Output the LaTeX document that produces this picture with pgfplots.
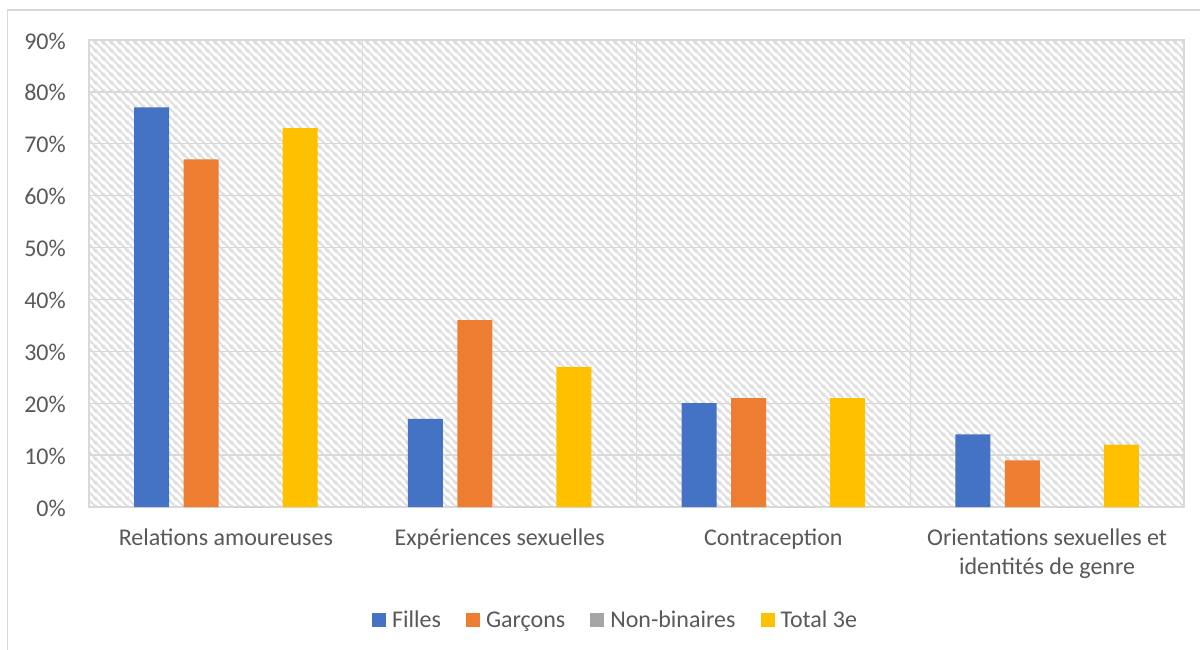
\documentclass[border=0pt]{standalone}
\usepackage{pgfplots}
\pgfplotsset{compat=1.18}
\usetikzlibrary{patterns.meta}
\usepackage{fontspec}
\setmainfont{Carlito}
\definecolor{txt}{HTML}{595959}
\definecolor{gridc}{HTML}{D9D9D9}
\definecolor{hatchc}{HTML}{DCDCDC}
\definecolor{cF}{HTML}{4472C4}
\definecolor{cG}{HTML}{ED7D31}
\definecolor{cN}{HTML}{A5A5A5}
\definecolor{cT}{HTML}{FFC000}
\tikzdeclarepattern{
  name=hatchNW,
  type=uncolored,
  bounding box={(0,0) and (8pt,8pt)},
  tile size={(8pt,8pt)},
  code={
    \pgfsetlinewidth{2pt}
    \pgfpathmoveto{\pgfqpoint{-2pt}{10pt}}\pgfpathlineto{\pgfqpoint{10pt}{-2pt}}
    \pgfpathmoveto{\pgfqpoint{-3pt}{3pt}}\pgfpathlineto{\pgfqpoint{3pt}{-3pt}}
    \pgfpathmoveto{\pgfqpoint{5pt}{11pt}}\pgfpathlineto{\pgfqpoint{11pt}{5pt}}
    \pgfusepath{stroke}
  }
}
\begin{document}
\begin{tikzpicture}
\useasboundingbox (0,0) rectangle (1200pt,649pt);
\fill[white] (0,0) rectangle (1200pt,649pt);
\draw[gridc, line width=1.5pt] (7.5pt,-2pt) -- (7.5pt,639pt) -- (1202pt,639pt);
\begin{axis}[
  at={(89pt,142pt)}, anchor=south west,
  scale only axis, width=1095pt, height=467pt,
  xmin=-0.5, xmax=3.5, ymin=0, ymax=90,
  ybar=14.5pt, bar width=35pt,
  axis background/.style={pattern={hatchNW}, pattern color=hatchc},
  axis line style={draw=gridc, line width=1.3pt},
  xtick={0,1,2,3},
  xticklabels={{Relations amoureuses},{Expériences sexuelles},{Contraception},{Orientations sexuelles et\\identités de genre}},
  minor xtick={0.5,1.5,2.5},
  xminorgrids, ymajorgrids,
  grid style={draw=gridc, line width=1.3pt},
  minor grid style={draw=gridc, line width=1.3pt},
  ytick={0,10,...,90},
  yticklabel={\pgfmathprintnumber{\tick}\%},
  /pgf/number format/assume math mode=true,
  major tick length=0pt, minor tick length=0pt,
  tick style={draw=none},
  ticklabel style={font=\fontsize{24}{29}\selectfont, text=txt},
  xticklabel style={align=center, inner ysep=0pt, yshift=-22pt},
  yticklabel style={inner xsep=0pt, xshift=-23pt, yshift=-1pt},
  legend columns=4,
  legend style={at={(0.480,-0.242)}, anchor=center, draw=none, fill=none,
    font=\fontsize{24}{29}\selectfont, text=txt,
    nodes={inner xsep=0pt},
    /tikz/every odd column/.append style={column sep=6pt},
    /tikz/every even column/.append style={column sep=25pt}},
  legend image code/.code={\fill[#1] (0pt,-7pt) rectangle (14pt,7pt);},
]
\addplot[fill=cF, draw=none] coordinates {(0,77) (1,17) (2,20) (3,14)};
\addplot[fill=cG, draw=none] coordinates {(0,67) (1,36) (2,21) (3,9)};
\addplot[fill=cN, draw=none] coordinates {(0,0) (1,0) (2,0) (3,0)};
\addplot[fill=cT, draw=none] coordinates {(0,73) (1,27) (2,21) (3,12)};
\legend{Filles, Garçons, Non-binaires, Total 3e}
\end{axis}
\end{tikzpicture}
\end{document}
